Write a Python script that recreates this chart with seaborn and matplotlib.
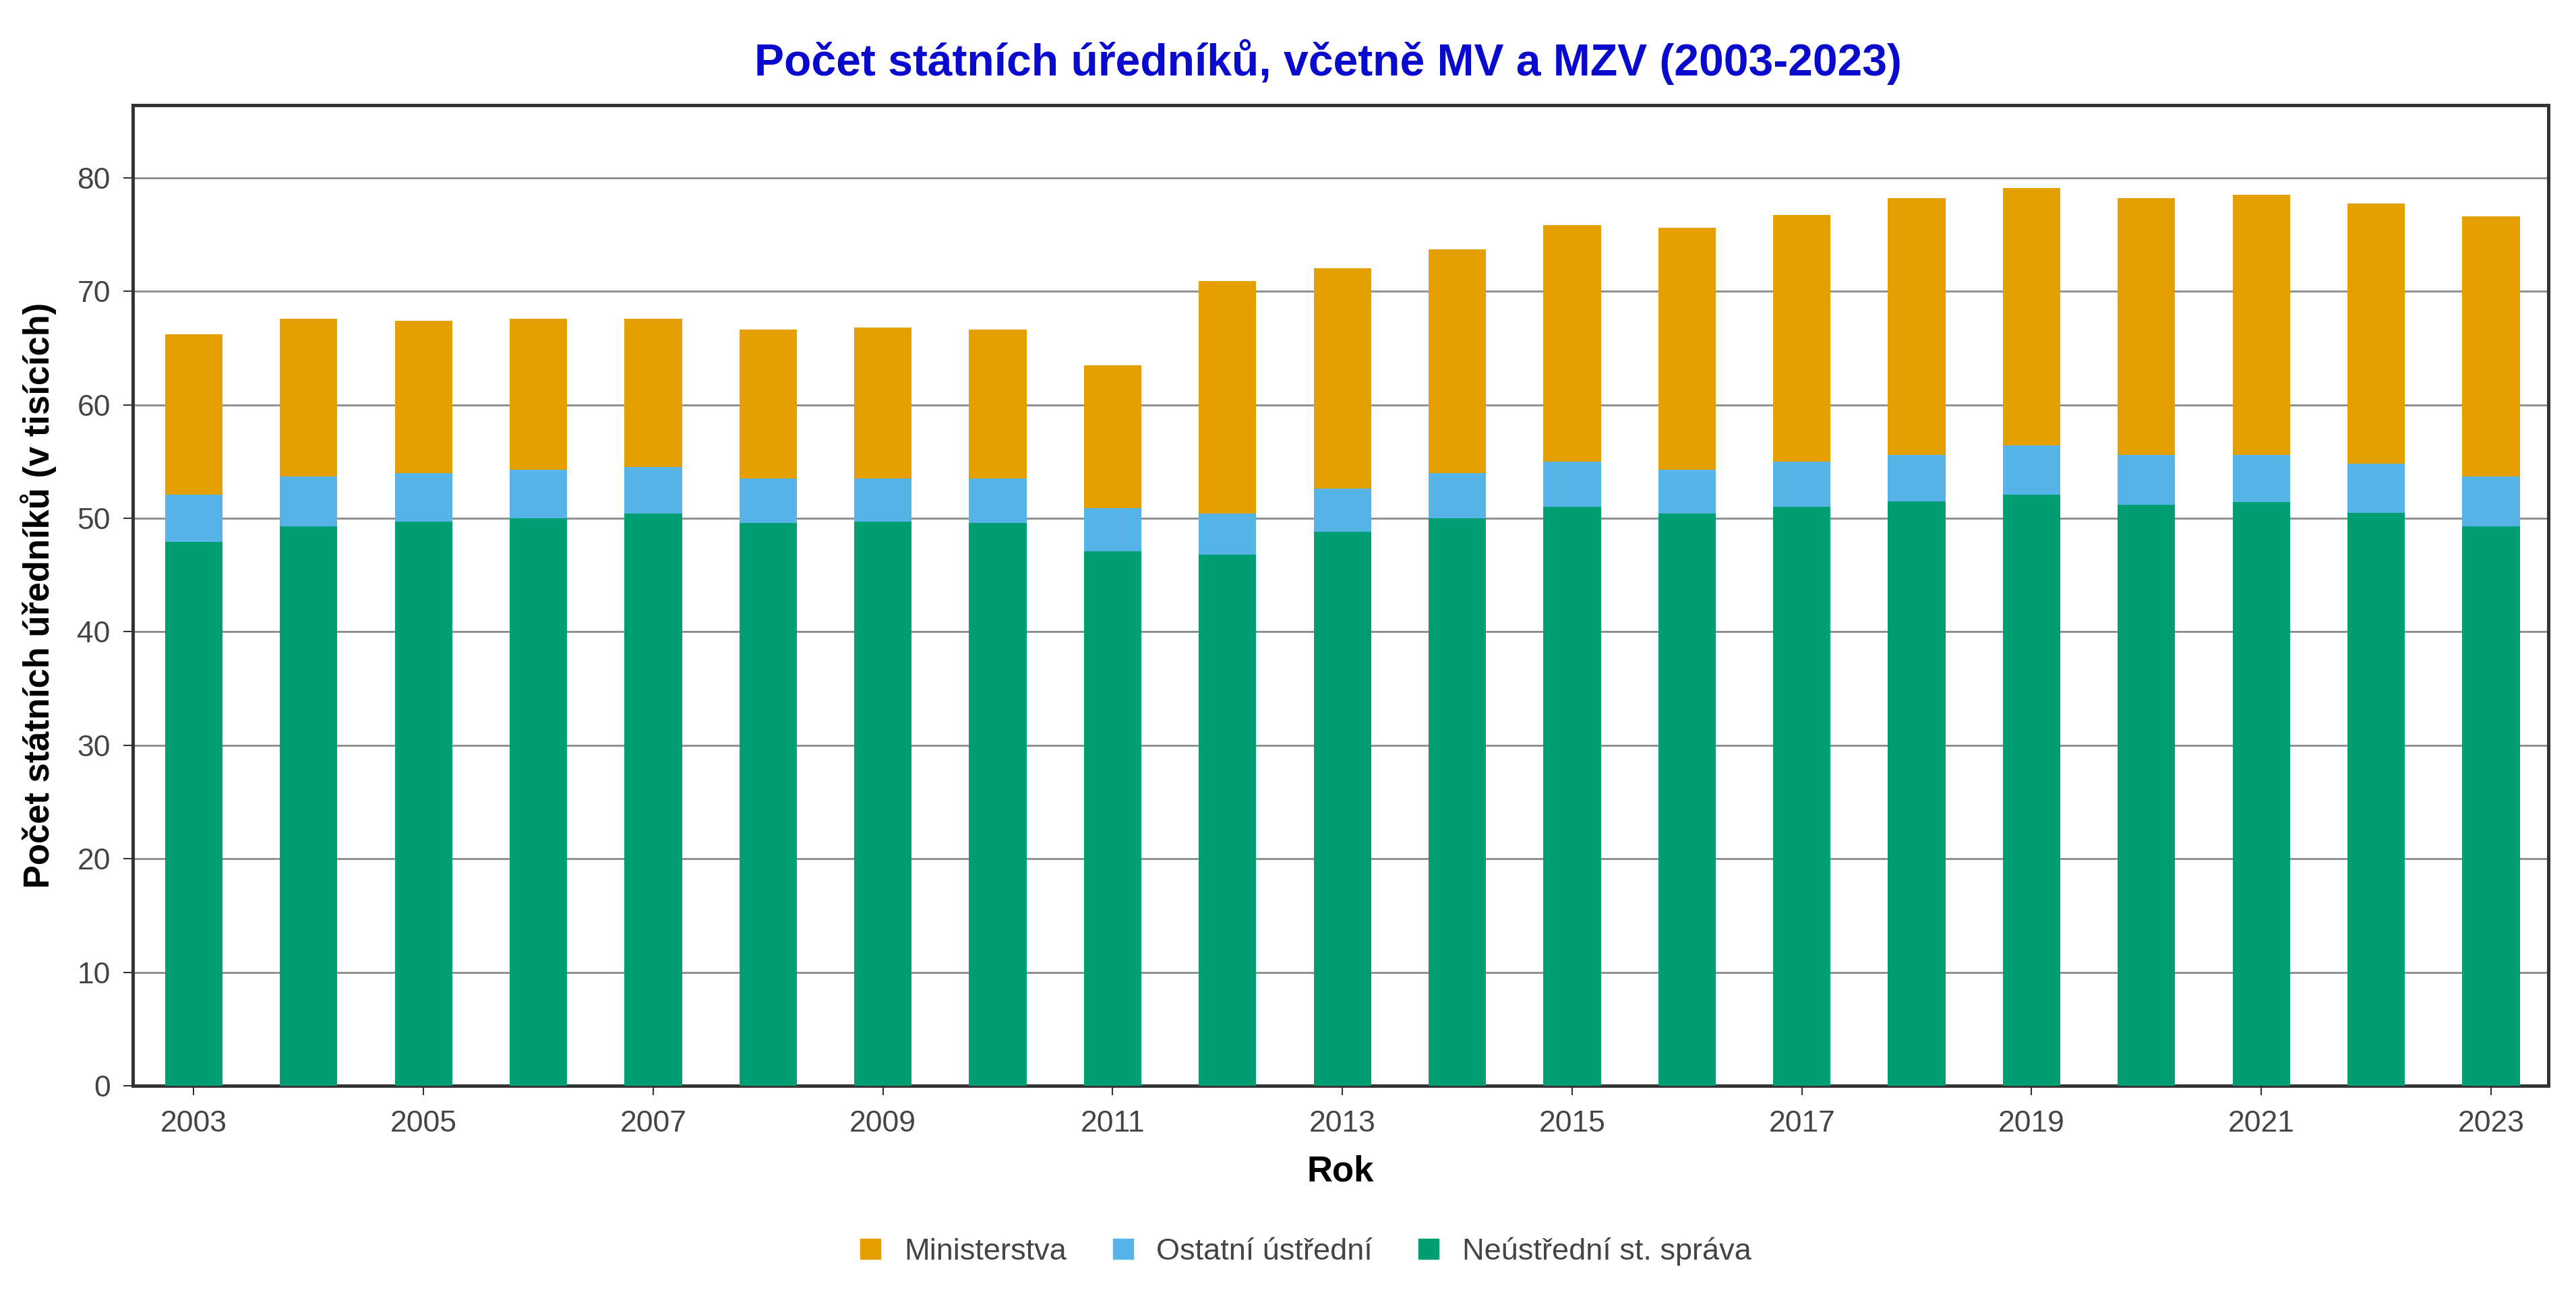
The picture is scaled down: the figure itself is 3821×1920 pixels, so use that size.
import matplotlib
matplotlib.use("Agg")
import matplotlib.pyplot as plt
import seaborn as sns
import pandas as pd
import numpy as np
from matplotlib.lines import Line2D

years = list(range(2003, 2024))
neustredni = [47.9, 49.3, 49.7, 50.0, 50.4, 49.6, 49.7, 49.6, 47.1, 46.8, 48.8,
              50.0, 51.0, 50.4, 51.0, 51.5, 52.1, 51.2, 51.4, 50.5, 49.3]
ostatni = [4.2, 4.4, 4.3, 4.3, 4.1, 3.9, 3.8, 3.9, 3.8, 3.6, 3.8,
           4.0, 4.0, 3.9, 4.0, 4.1, 4.3, 4.4, 4.2, 4.3, 4.4]
ministerstva = [14.1, 13.9, 13.4, 13.3, 13.1, 13.1, 13.3, 13.1, 12.6, 20.5, 19.4,
                19.7, 20.8, 21.3, 21.7, 22.6, 22.7, 22.6, 22.9, 22.9, 22.9]

series_names = ["Ministerstva", "Ostatní ústřední", "Neústřední st. správa"]
colors = {"Ministerstva": "#E69F00", "Ostatní ústřední": "#56B4E9",
          "Neústřední st. správa": "#009E73"}

title = "Počet státních úředníků, včetně MV a MZV (2003-2023)"
xlabel = "Rok"
ylabel = "Počet státních úředníků (v tisících)"
yticks = [0, 10, 20, 30, 40, 50, 60, 70, 80]

df = pd.DataFrame({"Rok": [str(y) for y in years],
                   "neu": neustredni, "ost": ostatni, "min": ministerstva})
df["lvl_neu"] = df["neu"]
df["lvl_ost"] = df["neu"] + df["ost"]
df["lvl_min"] = df["lvl_ost"] + df["min"]

sns.set_theme(style="white")
plt.rcParams['font.family'] = ['Liberation Sans', 'DejaVu Sans']

fig = plt.figure(figsize=(38.21, 19.2), dpi=100)
ax = fig.add_axes([0.0516, 0.1609, 0.9377, 0.7579])

for col, name in [("lvl_min", "Ministerstva"), ("lvl_ost", "Ostatní ústřední"),
                  ("lvl_neu", "Neústřední st. správa")]:
    sns.barplot(data=df, x="Rok", y=col, color=colors[name], width=0.5,
                saturation=1, ax=ax, zorder=3, linewidth=0)

ax.set_ylim(0, 86.4)
ax.set_xlim(-0.53, 20.5)
ax.set_yticks(yticks)
ax.set_yticklabels([str(v) for v in yticks])
idx = list(range(0, len(years), 2))
ax.set_xticks(idx)
ax.set_xticklabels([str(years[i]) for i in idx])

ax.yaxis.grid(True, color="#8a8a8a", linewidth=2.0, zorder=0)
ax.xaxis.grid(False)
ax.set_axisbelow(True)
for s in ax.spines.values():
    s.set_visible(True)
    s.set_color("#333333")
    s.set_linewidth(3.6)

ax.tick_params(axis="both", which="major", labelsize=32, labelcolor="#444444",
               color="#333333", direction="out", length=10, width=1.5, pad=14,
               bottom=True, left=True)
ax.tick_params(axis="x", pad=16)

ax.set_xlabel(xlabel, fontsize=38, fontweight="bold", color="black", labelpad=18)
ax.set_ylabel(ylabel, fontsize=37.8, fontweight="bold", color="black", labelpad=22)

fig.text(0.5155, 0.952, title, ha="center", va="center", fontsize=47.5,
         fontweight="bold", color="#0A0ACC")

handles = [Line2D([0], [0], marker="s", linestyle="", markersize=22,
                  markerfacecolor=colors[n], markeredgecolor=colors[n])
           for n in series_names]
fig.legend(handles, series_names, loc="center", bbox_to_anchor=(0.506, 0.033),
           ncol=3, frameon=False, fontsize=32.5, labelcolor="#444444",
           handletextpad=0.6, columnspacing=1.35, handlelength=1.0)

fig.savefig("out.png", dpi=100, facecolor="white")
